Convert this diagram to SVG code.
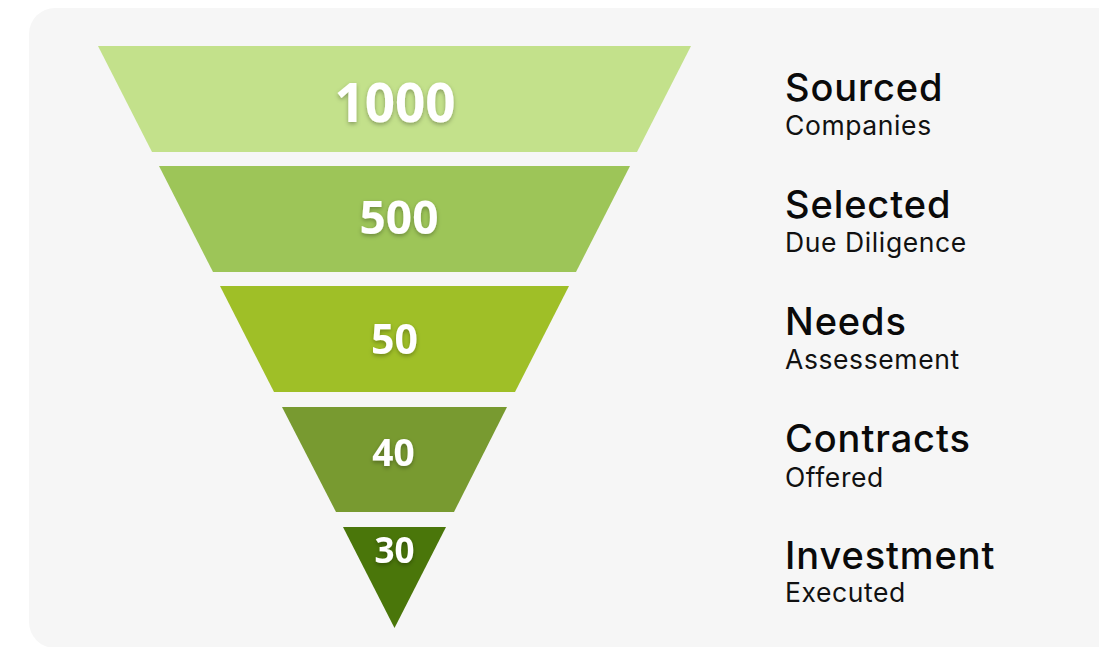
<svg xmlns="http://www.w3.org/2000/svg" width="1099" height="647" viewBox="0 0 1099 647">
<style>
.num{font-family:"Open Sans","Liberation Sans",sans-serif;font-weight:700;fill:#ffffff;text-anchor:middle;filter:url(#sh)}
.ttl{font-family:Inter,"Liberation Sans",sans-serif;font-weight:500;font-size:38px;letter-spacing:0.9px;fill:#0a0a0a}
.sub{font-family:Inter,"Liberation Sans",sans-serif;font-weight:400;font-size:26.5px;letter-spacing:0.6px;fill:#111111}
</style>
<defs>
<filter id="sh" x="-20%" y="-30%" width="140%" height="160%">
<feDropShadow dx="0" dy="2" stdDeviation="2" flood-color="#000000" flood-opacity="0.3"/>
</filter>
</defs>
<rect x="29" y="8" width="1100" height="640" rx="26" fill="#f6f6f6"/>
<g id="stage1">
<polygon points="98,46 691,46 637,152 152,152" fill="#c3e18b"/>
<text class="num" x="395" y="122" font-size="53">1000</text>
</g>
<g id="stage2">
<polygon points="159,166 630,166 576,272 213,272" fill="#9dc558"/>
<text class="num" x="399" y="234" font-size="46">500</text>
</g>
<g id="stage3">
<polygon points="220,286 569,286 515,392 274,392" fill="#9fbf27"/>
<text class="num" x="394.5" y="354" font-size="41">50</text>
</g>
<g id="stage4">
<polygon points="282,407 507,407 454,512 336,512" fill="#789a30"/>
<text class="num" x="393.5" y="465.5" font-size="37">40</text>
</g>
<g id="stage5">
<polygon points="343,527 446,527 394.5,628" fill="#4a760a"/>
<text class="num" x="394.5" y="563" font-size="35">30</text>
</g>
<g id="labels">
<g id="label1"><text class="ttl" x="785" y="101">Sourced</text><text class="sub" x="785" y="135">Companies</text></g>
<g id="label2"><text class="ttl" x="785" y="218">Selected</text><text class="sub" x="785" y="252">Due Diligence</text></g>
<g id="label3"><text class="ttl" x="785" y="335">Needs</text><text class="sub" x="785" y="369">Assessement</text></g>
<g id="label4"><text class="ttl" x="785" y="452">Contracts</text><text class="sub" x="785" y="486.5">Offered</text></g>
<g id="label5"><text class="ttl" x="785" y="569">Investment</text><text class="sub" x="785" y="602">Executed</text></g>
</g>
<g id="connectors"></g>
</svg>
